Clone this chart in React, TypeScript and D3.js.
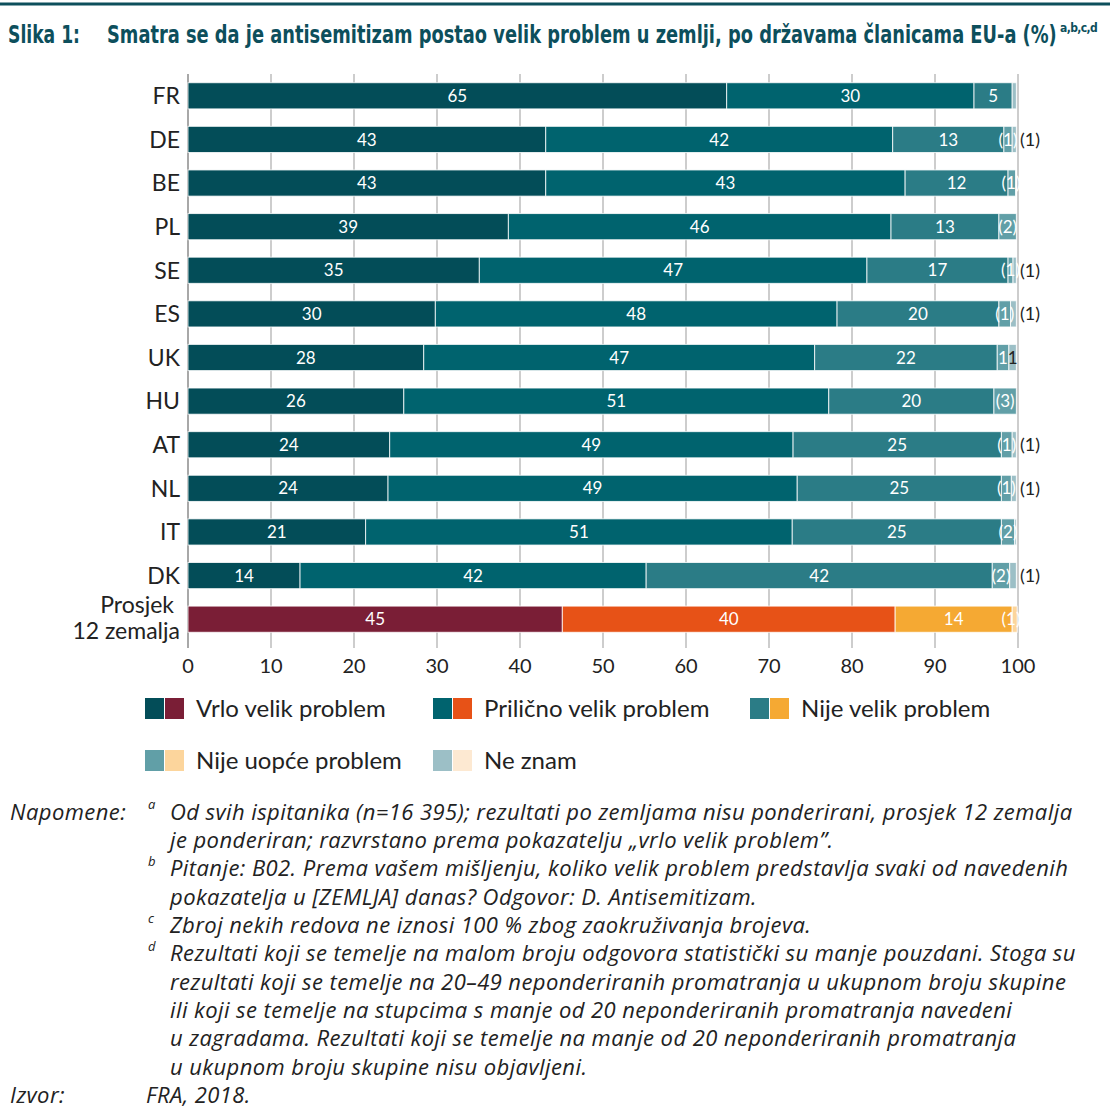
import React, { useLayoutEffect, useRef, useState } from 'react';
import * as d3 from 'd3';

// rows, top to bottom
const categories = ['FR', 'DE', 'BE', 'PL', 'SE', 'ES', 'UK', 'HU', 'AT', 'NL', 'IT', 'DK', 'Prosjek 12 zemalja'];

// shares in %
const vrloVelik = [64.9, 43.1, 43.1, 38.6, 35.1, 29.8, 28.4, 26.0, 24.3, 24.1, 21.4, 13.5, 45.1];
const prilicnoVelik = [29.8, 41.8, 43.3, 46.1, 46.7, 48.4, 47.1, 51.2, 48.6, 49.3, 51.4, 41.7, 40.1];
const nijeVelik = [4.6, 13.4, 12.4, 13.0, 17.0, 19.5, 22.0, 19.9, 25.1, 24.6, 25.2, 41.7, 14.1];
const nijeUopce = [0, 1.0, 0.9, 2.1, 0.6, 1.4, 1.4, 2.7, 1.3, 1.2, 1.6, 2.1, 0.6];
const neZnam = [0.5, 0.5, 0, 0, 0.4, 0.7, 0.9, 0, 0.5, 0.6, 0.2, 0.8, 0];

// small-segment labels (brackets = few observations)
const nijeUopceLabels = ['', '(1)', '(1)', '(2)', '(1)', '(1)', '1', '(3)', '(1)', '(1)', '(2)', '(2)', '(1)'];
const neZnamLabels = ['', '(1)', '', '', '(1)', '(1)', '1', '', '(1)', '(1)', '', '(1)', ''];

const xTicks = [0, 10, 20, 30, 40, 50, 60, 70, 80, 90, 100];

const seriesNames = ['Vrlo velik problem', 'Prilično velik problem', 'Nije velik problem', 'Nije uopće problem', 'Ne znam'];
const countryColors = ['#034d58', '#00636e', '#2b7c86', '#619fa7', '#9cbfc6'];
const averageColors = ['#7a1e36', '#e75217', '#f5a933', '#fcd59c', '#fde9d2'];

const TEAL = '#0d4f5c';
const INK = '#222';
const SANS = "Lato, 'Open Sans', sans-serif";
const NOTE_FONT = "'Open Sans', Lato, sans-serif";
const TITLE_FONT = "'Liberation Sans Narrow', 'DejaVu Sans Condensed', 'Noto Sans', sans-serif";

const W = 1110;
const H = 1119;

export default function App() {
  const labelRef = useRef<SVGTextElement>(null);
  const titleRef = useRef<SVGTextElement>(null);
  const [sx, setSx] = useState<[number, number]>([1, 1]);

  // squeeze the bold title into the width the reference uses
  useLayoutEffect(() => {
    const a = labelRef.current?.getComputedTextLength() || 72;
    const b = titleRef.current?.getComputedTextLength() || 950;
    setSx([72 / a, 950 / b]);
  }, []);

  const x = d3.scaleLinear().domain([0, 100]).range([188, 1018]);
  const y = d3.scaleBand<string>().domain(categories).range([74, 641]).paddingInner(0.4).paddingOuter(0.2);

  const stacked = categories.map((c, i) => {
    const vals = [vrloVelik[i], prilicnoVelik[i], nijeVelik[i], nijeUopce[i], neZnam[i]];
    let acc = 0;
    return vals.map((v, k) => {
      const seg = { key: k, x0: acc, x1: acc + v, v };
      acc += v;
      return seg;
    });
  });

  const bw = y.bandwidth();
  const lastIdx = categories.length - 1;

  const notes: { mark?: string; text: string }[] = [
    { mark: 'a', text: 'Od svih ispitanika (n=16 395); rezultati po zemljama nisu ponderirani, prosjek 12 zemalja' },
    { text: 'je ponderiran; razvrstano prema pokazatelju „vrlo velik problem”.' },
    { mark: 'b', text: 'Pitanje: B02. Prema vašem mišljenju, koliko velik problem predstavlja svaki od navedenih' },
    { text: 'pokazatelja u [ZEMLJA] danas? Odgovor: D. Antisemitizam.' },
    { mark: 'c', text: 'Zbroj nekih redova ne iznosi 100 % zbog zaokruživanja brojeva.' },
    { mark: 'd', text: 'Rezultati koji se temelje na malom broju odgovora statistički su manje pouzdani. Stoga su' },
    { text: 'rezultati koji se temelje na 20–49 neponderiranih promatranja u ukupnom broju skupine' },
    { text: 'ili koji se temelje na stupcima s manje od 20 neponderiranih promatranja navedeni' },
    { text: 'u zagradama. Rezultati koji se temelje na manje od 20 neponderiranih promatranja' },
    { text: 'u ukupnom broju skupine nisu objavljeni.' },
  ];
  const noteY = (i: number) => 811.7 + i * 28.35;

  const legendItems = [
    { k: 0, x: 145, y: 708 },
    { k: 1, x: 433, y: 708 },
    { k: 2, x: 750, y: 708 },
    { k: 3, x: 145, y: 760 },
    { k: 4, x: 433, y: 760 },
  ];

  return (
    <svg width={W} height={H} style={{ position: 'absolute', left: 0, top: 0, display: 'block', background: '#fff' }}>
      <line x1={0} x2={W} y1={4} y2={4} stroke={TEAL} strokeWidth={3} />

      {/* title */}
      <g fill={TEAL} fontFamily={TITLE_FONT} fontWeight={700}>
        <text ref={labelRef} transform={`translate(8,43) scale(${sx[0]},1)`} fontSize={24}>Slika 1:</text>
        <text ref={titleRef} transform={`translate(107,43) scale(${sx[1]},1)`} fontSize={24}>
          Smatra se da je antisemitizam postao velik problem u zemlji, po državama članicama EU-a (%)
        </text>
        <text x={1060} y={32} fontSize={12} letterSpacing={-0.6}>a,b,c,d</text>
      </g>

      {/* grid */}
      <g>
        {xTicks.map(t => (
          <line key={t} x1={x(t)} x2={x(t)} y1={74} y2={648} stroke={t === 0 ? '#a8a8a8' : '#bdbdbd'} strokeWidth={t === 0 ? 2 : 1.5} />
        ))}
      </g>

      {/* bars */}
      {stacked.map((segs, i) => {
        const top = y(categories[i])!;
        const colors = i === lastIdx ? averageColors : countryColors;
        return (
          <g key={categories[i]}>
            {segs.filter(s => s.v > 0).map(s => (
              <rect key={s.key} x={x(s.x0)} y={top} width={x(s.x1) - x(s.x0)} height={bw}
                fill={colors[s.key]} stroke="#fff" strokeWidth={1} strokeOpacity={0.8} />
            ))}
            {segs.slice(0, 3).map(s => (
              <text key={'l' + s.key} x={(x(s.x0) + x(s.x1)) / 2} y={top + bw / 2} dy="0.36em"
                textAnchor="middle" fill="#fff" fontFamily={SANS} fontSize={17}>
                {Math.round(s.v)}
              </text>
            ))}
            {nijeUopceLabels[i] && (
              <text x={Math.min((x(segs[3].x0) + x(segs[3].x1)) / 2, x(100) - 7)} y={top + bw / 2} dy="0.36em"
                textAnchor="middle" fill="#fff" fontFamily={SANS} fontSize={17}>
                {nijeUopceLabels[i]}
              </text>
            )}
            {neZnamLabels[i] && (neZnamLabels[i].startsWith('(') ? (
              <text x={x(100) + 2} y={top + bw / 2} dy="0.36em" textAnchor="start" fill={INK} fontFamily={SANS} fontSize={18}>
                {neZnamLabels[i]}
              </text>
            ) : (
              <text x={(x(segs[4].x0) + x(segs[4].x1)) / 2} y={top + bw / 2} dy="0.36em" textAnchor="middle" fill={INK} fontFamily={SANS} fontSize={17}>
                {neZnamLabels[i]}
              </text>
            ))}
          </g>
        );
      })}

      {/* category labels */}
      <g fontFamily={SANS} fontSize={23} fill={INK} textAnchor="end">
        {categories.map((c, i) => {
          const cy = y(c)! + bw / 2;
          if (i === lastIdx) {
            const [a, ...rest] = c.split(' ');
            return (
              <g key={c}>
                <text x={174} y={cy - 14} dy="0.36em">{a}</text>
                <text x={180} y={cy + 12} dy="0.36em">{rest.join(' ')}</text>
              </g>
            );
          }
          return <text key={c} x={180} y={cy} dy="0.36em">{c}</text>;
        })}
      </g>

      {/* x axis labels */}
      <g fontFamily={SANS} fontSize={20} fill={INK} textAnchor="middle">
        {xTicks.map(t => (
          <text key={t} x={x(t)} y={666} dy="0.36em">{t}</text>
        ))}
      </g>

      {/* legend */}
      <g fontFamily={SANS} fontSize={24} fill={INK}>
        {legendItems.map(it => (
          <g key={it.k}>
            <rect x={it.x} y={it.y - 10} width={19} height={21} fill={countryColors[it.k]} />
            <rect x={it.x + 20} y={it.y - 10} width={19} height={21} fill={averageColors[it.k]} />
            <text x={it.x + 51} y={it.y} dy="0.36em">{seriesNames[it.k]}</text>
          </g>
        ))}
      </g>

      {/* notes */}
      <g fontFamily={NOTE_FONT} fontSize={22} fontStyle="italic" fill={INK} letterSpacing={0.42}>
        <text x={10} y={noteY(0)} dy="0.36em">Napomene:</text>
        {notes.map((n, i) => (
          <g key={i}>
            {n.mark && <text x={148} y={noteY(i) - 7} dy="0.36em" fontSize={13}>{n.mark}</text>}
            <text x={170} y={noteY(i)} dy="0.36em">{n.text}</text>
          </g>
        ))}
        <text x={10} y={1095} dy="0.36em">Izvor:</text>
        <text x={146} y={1095} dy="0.36em">FRA, 2018.</text>
      </g>
    </svg>
  );
}
